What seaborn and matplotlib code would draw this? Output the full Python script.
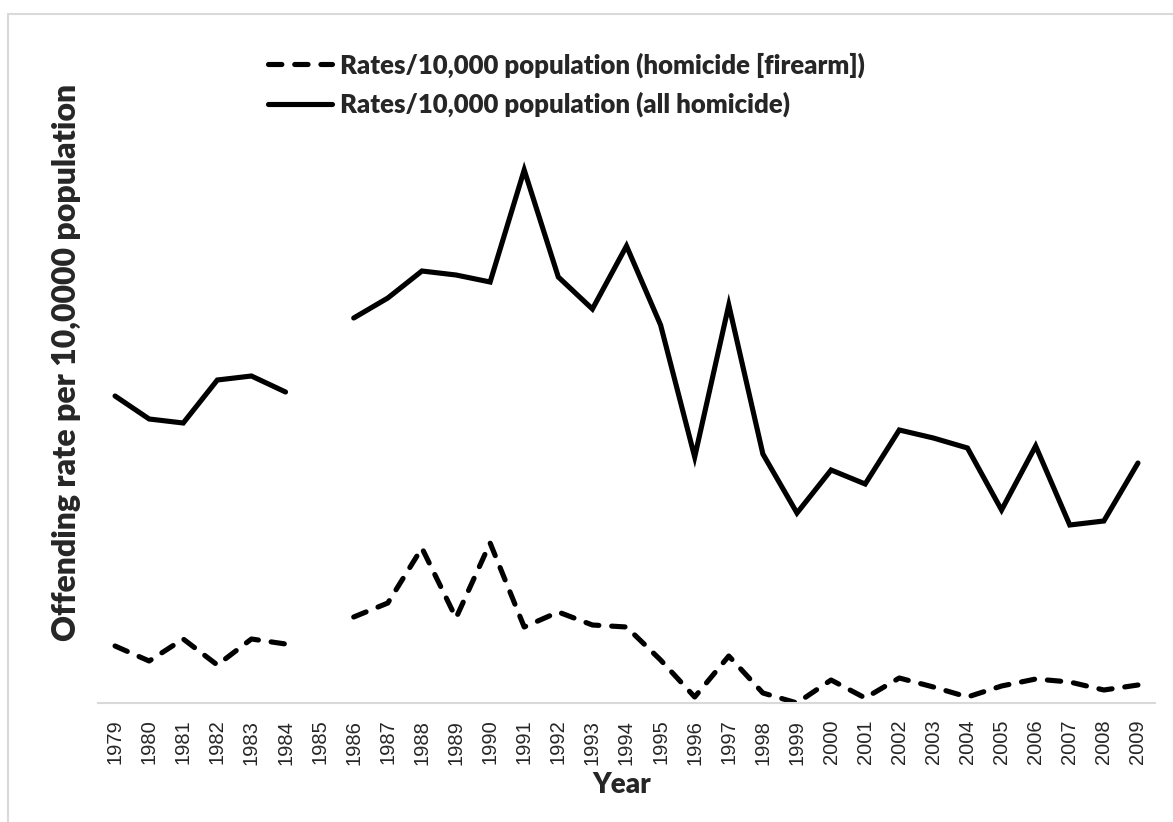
import numpy as np
import pandas as pd
import matplotlib
matplotlib.use("Agg")
import matplotlib.pyplot as plt
from matplotlib.lines import Line2D
import seaborn as sns

years = list(range(1979, 2010))

# offending rates (1985 missing)
all_homicide = [3.07, 2.84, 2.80, 3.23, 3.27, 3.11, np.nan, 3.85, 4.05, 4.32,
                4.28, 4.21, 5.33, 4.26, 3.94, 4.57, 3.78, 2.46, 3.98, 2.49,
                1.90, 2.33, 2.19, 2.73, 2.65, 2.55, 1.93, 2.57, 1.78, 1.82, 2.40]
firearm = [0.57, 0.42, 0.64, 0.38, 0.64, 0.59, np.nan, 0.86, 1.00, 1.55,
           0.85, 1.60, 0.76, 0.91, 0.78, 0.76, 0.43, 0.06, 0.47, 0.10,
           0.00, 0.23, 0.05, 0.25, 0.16, 0.06, 0.17, 0.24, 0.21, 0.13, 0.18]

lab_fire = "Rates/10,000 population (homicide [firearm])"
lab_all = "Rates/10,000 population (all homicide)"


def to_long(values, label):
    df = pd.DataFrame({"Year": years, "pos": range(len(years)), "rate": values})
    df["series"] = label
    # break the line where a year is missing
    df["segment"] = df["rate"].isna().cumsum()
    return df.dropna()


df_fire = to_long(firearm, lab_fire)
df_all = to_long(all_homicide, lab_all)

sns.set_theme(style="white")
plt.rcParams["font.family"] = ["Lato", "DejaVu Sans"]

fig = plt.figure(figsize=(11.73, 8.22), dpi=100)
ax = fig.add_axes([98 / 1173, 119 / 822, 1057 / 1173, 550 / 822])

lw = 3.7
dash = (2.6, 2.5)
sns.lineplot(data=df_all, x="pos", y="rate", units="segment", estimator=None,
             color="black", linewidth=lw, legend=False, ax=ax)
sns.lineplot(data=df_fire, x="pos", y="rate", units="segment", estimator=None,
             color="black", linewidth=lw, legend=False, ax=ax)
for line in ax.get_lines()[2:]:
    line.set_dashes(dash)
    line.set_dash_capstyle("round")
for line in ax.get_lines():
    line.set_solid_capstyle("round")
    line.set_solid_joinstyle("miter")

ax.set_xlim(-0.5, len(years) - 0.5)
ax.set_ylim(0, 5.5)
ax.set_xticks(range(len(years)))
ax.set_xticklabels(years, rotation=90, fontsize=14.5, family="Liberation Sans")
ax.set_yticks([])
ax.tick_params(axis="x", length=0, pad=12)
for s in ["top", "right", "left"]:
    ax.spines[s].set_visible(False)
ax.spines["bottom"].set_color("#d9d9d9")
ax.spines["bottom"].set_linewidth(1.5)

ax.set_xlabel("Year", fontsize=20, fontweight="heavy")
ax.xaxis.set_label_coords(0.495, -0.125)
ax.set_ylabel("Offending rate per 10,0000 population", fontsize=23,
              fontweight="heavy")
ax.yaxis.set_label_coords(-0.016, 0.62)

h_fire = Line2D([], [], color="black", linewidth=lw, dashes=dash,
                dash_capstyle="round")
h_all = Line2D([], [], color="black", linewidth=lw)
fig.legend([h_fire, h_all], [lab_fire, lab_all], loc="upper left",
           bbox_to_anchor=(268 / 1173, 1 - 52 / 822), frameon=False,
           prop={"weight": "heavy", "size": 18.5}, handlelength=2.5,
           handletextpad=0.3, labelspacing=0.55, borderpad=0, borderaxespad=0)

# light frame along the top and left edge
fig.add_artist(Line2D([8 / 1173, 8 / 1173], [0, 1 - 14 / 822],
                      color="#d9d9d9", linewidth=1.5, transform=fig.transFigure))
fig.add_artist(Line2D([8 / 1173, 1], [1 - 14 / 822, 1 - 14 / 822],
                      color="#d9d9d9", linewidth=1.5, transform=fig.transFigure))

fig.savefig("out.png", dpi=100)
